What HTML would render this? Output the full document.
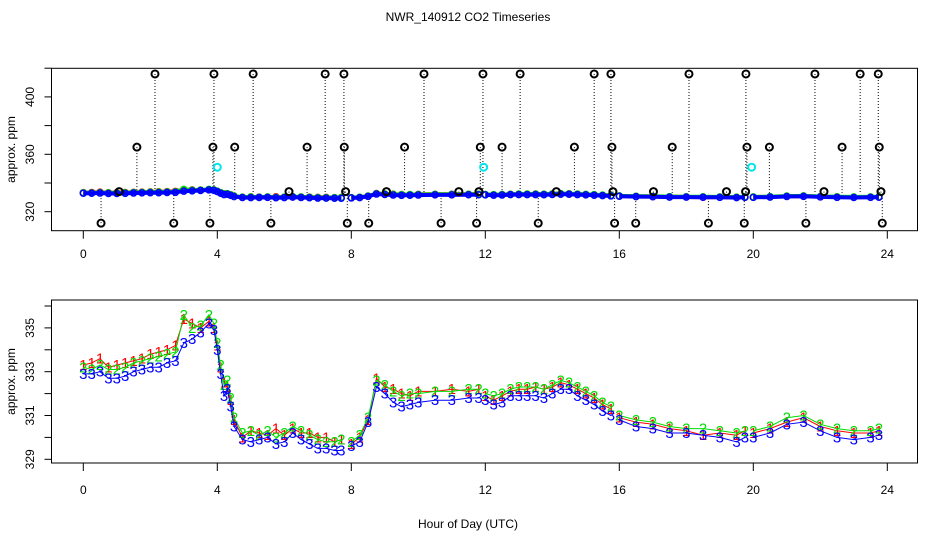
<!DOCTYPE html>
<html><head><meta charset="utf-8"><style>
html,body{margin:0;padding:0;background:#fff;}
svg{display:block;font-family:"Liberation Sans",sans-serif;}
</style></head><body>
<svg id="chart" width="936" height="540" viewBox="0 0 936 540">
<text x="468" y="21" text-anchor="middle" font-size="12">NWR_140912  CO2 Timeseries</text>
<text x="468" y="528" text-anchor="middle" font-size="12">Hour of Day (UTC)</text>
<g id="top"></g>
<g id="bot"></g>
</svg>
<script>
const hours=[0,0.25,0.5,0.75,1,1.25,1.5,1.75,2,2.25,2.5,2.75,3,3.25,3.5,3.75,3.9,4,4.1,4.2,4.3,4.4,4.5,4.75,5,5.25,5.5,5.75,6,6.25,6.5,6.75,7,7.25,7.5,7.7,7.85,
8,8.25,8.5,8.75,9,9.25,9.5,9.75,10,10.5,11,11.5,11.8,11.9,
12,12.25,12.5,12.75,13,13.25,13.5,13.75,14,14.25,14.5,14.75,15,15.25,15.5,15.75,15.9,
16,16.5,17,17.5,18,18.5,19,19.5,19.75,19.9,
20,20.5,21,21.5,22,22.5,23,23.5,23.75];
const series3=[332.9,332.9,333.0,332.7,332.7,332.8,333.0,333.1,333.2,333.2,333.4,333.5,334.3,334.5,334.8,335.2,334.9,334.0,332.9,331.9,332.2,331.4,330.5,329.9,329.8,329.9,330.0,329.7,329.8,330.2,329.9,329.7,329.5,329.5,329.4,329.4,null,
329.6,329.8,330.7,332.3,332.0,331.6,331.4,331.5,331.6,331.7,331.7,331.8,331.8,null,
331.7,331.5,331.6,331.9,331.9,331.9,331.9,331.8,332.0,332.2,332.2,331.9,331.7,331.5,331.2,331.0,null,
330.8,330.5,330.4,330.2,330.2,330.1,330.0,329.8,330.0,null,
330.0,330.2,330.6,330.7,330.3,330.0,329.9,330.0,330.1];
const series2=[333.2,333.1,333.3,333.1,333.1,333.2,333.4,333.5,333.6,333.7,333.8,333.9,335.6,335.0,335.1,335.6,335.2,334.3,333.3,332.4,332.6,331.8,330.9,330.2,330.3,330.1,330.3,330.0,330.2,330.5,330.3,330.1,329.9,329.8,329.8,329.9,null,
329.8,330.1,330.9,332.6,332.4,332.1,331.9,332.0,332.0,332.1,332.1,332.2,332.2,null,
332.0,331.9,332.0,332.2,332.3,332.3,332.3,332.2,332.4,332.6,332.5,332.3,332.1,331.9,331.6,331.4,null,
331.0,330.8,330.7,330.5,330.4,330.4,330.3,330.2,330.3,null,
330.3,330.5,330.9,331.0,330.6,330.4,330.3,330.3,330.4];
const series1=[333.3,333.4,333.6,333.2,333.3,333.4,333.5,333.6,333.8,333.9,334.0,334.2,335.4,335.2,335.0,335.3,335.0,334.2,333.2,332.5,332.3,331.7,330.8,330.0,330.3,330.2,330.1,330.4,330.1,330.4,330.2,330.2,330.0,330.0,329.8,329.9,null,
329.7,330.0,330.8,332.7,332.3,332.2,332.0,331.9,332.1,332.1,332.2,332.1,332.2,null,
331.9,331.7,331.9,332.1,332.2,332.2,332.3,332.2,332.3,332.5,332.4,332.2,332.0,331.8,331.5,331.3,null,
330.9,330.7,330.6,330.4,330.3,330.1,330.2,330.1,330.3,null,
330.2,330.4,330.7,330.9,330.5,330.3,330.2,330.2,330.3];
const outlierHours=[2.14,3.9,5.07,7.22,7.78,10.17,11.93,13.04,15.25,15.75,18.08,19.78,21.84,23.19,23.73,
1.6,3.87,4.52,6.68,7.79,9.59,11.85,12.5,14.66,15.78,17.58,19.81,20.48,22.65,23.76,
0.53,2.7,3.78,5.6,7.88,8.52,10.68,11.74,13.58,15.86,16.49,18.66,19.73,21.57,23.85,
1.07,6.14,7.83,9.05,11.21,11.81,14.12,15.81,17.02,19.2,19.77,22.11,23.81];
const outlierValues=[416,416,416,416,416,416,416,416,416,416,416,416,416,416,416,
365,365,365,365,365,365,365,365,365,365,365,365,365,365,365,
312,312,312,312,312,312,312,312,312,312,312,312,312,312,312,
334,334,334,334,334,334,334,334,334,334,334,334,334];
const cyanHours=[4.0,11.95,19.95];
const cyanValues=[351,351,351];
const xTicks=[0,4,8,12,16,20,24];
const topYTicks=[420,400,380,360,340,320];
const topYLabels=[400,360,320];
const botYTicks=[336,335,334,333,332,331,330,329];
const botYLabels=[335,333,331,329];

const NS='http://www.w3.org/2000/svg';
function mk(parent,tag,attrs){const e=document.createElementNS(NS,tag);for(const k in attrs)e.setAttribute(k,attrs[k]);parent.appendChild(e);return e;}
const xS=h=>83.3+33.5*h;
const yTop=v=>211.7-(v-320)*1.435;
const yBot=v=>459.3-(v-329)*21.9;
const L=51.5,R=917.5;

function axes(g,top,bottom,yS,yT,yL,labY,prefix){
  const box=mk(g,'rect',{x:L,y:top,width:R-L,height:bottom-top,fill:'none',stroke:'#000','stroke-width':1});
  
  
  xTicks.forEach(t=>{
    const tk=mk(g,'line',{x1:xS(t),x2:xS(t),y1:bottom,y2:bottom+8,stroke:'#000'});
    
    
    const tx=mk(g,'text',{x:xS(t),y:labY,'text-anchor':'middle','font-size':12});
    tx.textContent=t;
    
    
  });
  yT.forEach(t=>{
    const tk=mk(g,'line',{x1:L-7,x2:L,y1:yS(t),y2:yS(t),stroke:'#000'});
    
    
  });
  yL.forEach(t=>{
    const tx=mk(g,'text',{x:0,y:0,'text-anchor':'middle','font-size':12,transform:`translate(34,${yS(t)}) rotate(-90)`});
    tx.textContent=t;
    
    
  });
  const yt=mk(g,'text',{x:0,y:0,'text-anchor':'middle','font-size':12,transform:`translate(15,${(top+bottom)/2}) rotate(-90)`});
  yt.textContent='approx. ppm';
  
  
}
function pathFor(vals,yS){
  let d='',pen=false;
  hours.forEach((h,i)=>{const v=vals[i];if(v==null){pen=false;return;}d+=(pen?'L':'M')+xS(h).toFixed(1)+' '+yS(v).toFixed(1);pen=true;});
  return d;
}
const colors=['#ff0000','#00dd00','#0000ff'];
const all=[series1,series2,series3];

// Top panel
const gt=document.getElementById('top');
axes(gt,68.3,230.7,yTop,topYTicks,topYLabels,258,'top');
outlierHours.forEach((h,i)=>{
  const ln=mk(gt,'line',{x1:xS(h),x2:xS(h),y1:yTop(outlierValues[i]),y2:yTop(333),stroke:'#000','stroke-width':1,'stroke-dasharray':'1 2'});
  
  
});
all.forEach((s,k)=>{
  const p=mk(gt,'path',{d:pathFor(s,yTop),fill:'none',stroke:colors[k],'stroke-width':4});
  
  
  hours.forEach((h,i)=>{if(s[i]==null)return;
    const c=mk(gt,'circle',{cx:xS(h),cy:yTop(s[i]),r:3,fill:'none',stroke:colors[k],'stroke-width':1.5});
    
    
  });
});
outlierHours.forEach((h,i)=>{
  const c=mk(gt,'circle',{cx:xS(h),cy:yTop(outlierValues[i]),r:3.5,fill:'none',stroke:'#000','stroke-width':2});
  
  
});
cyanHours.forEach((h,i)=>{
  const c=mk(gt,'circle',{cx:xS(h),cy:yTop(cyanValues[i]),r:3.5,fill:'none',stroke:'#00e5ee','stroke-width':2});
  
  
});

// Bottom panel
const gb=document.getElementById('bot');
axes(gb,300,463,yBot,botYTicks,botYLabels,494,'bottom');
all.forEach((s,k)=>{
  const p=mk(gb,'path',{d:pathFor(s,yBot),fill:'none',stroke:colors[k],'stroke-width':1});
  
  
  hours.forEach((h,i)=>{if(s[i]==null)return;
    const t=mk(gb,'text',{x:xS(h),y:yBot(s[i])+5,'text-anchor':'middle','font-size':15,fill:colors[k]});
    t.textContent=String(k+1);
    
    
  });
});
</script>
</body></html>
